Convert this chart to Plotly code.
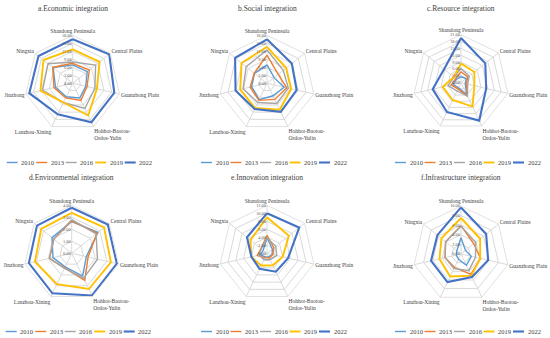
import plotly.graph_objects as go

categories = ["Shandong Peninsula", "Central Plains", "Guanzhong Plain",
              "Hohhot-Baotou-Ordos-Yulin", "Lanzhou-Xining", "Jinzhong", "Ningxia"]
category_labels = ["Shandong Peninsula", "Central Plains", "Guanzhong Plain",
                   "Hohhot-Baotou-<br>Ordos-Yulin", "Lanzhou-Xining", "Jinzhong", "Ningxia"]
years = ["2010", "2013", "2016", "2019", "2022"]
panel_titles = ["a.Economic integration", "b.Social integration", "c.Resource integration",
                "d.Environmental integration", "e.Innovation integration", "f.Infrastructure integration"]

# a. Economic integration
econ_2010 = [6.9, 7.0, 5.0, 6.1, 5.6, 6.6, 9.4]
econ_2013 = [7.5, 8.0, 5.5, 7.1, 6.1, 7.2, 9.6]
econ_2016 = [8.0, 11.0, 8.5, 10.5, 8.0, 11.6, 11.8]
econ_2019 = [12.7, 12.9, 9.3, 13.4, 8.0, 12.4, 14.0]
econ_2022 = [16.5, 17.5, 16.0, 16.2, 12.9, 16.7, 16.4]

# b. Social integration
social_2010 = [6.9, 3.4, 6.6, 5.2, 6.8, 5.9, 6.0]
social_2013 = [10.6, 5.4, 7.6, 6.7, 7.1, 6.5, 6.1]
social_2016 = [12.5, 7.8, 8.2, 8.4, 8.0, 9.2, 10.0]
social_2019 = [13.7, 9.2, 9.3, 11.0, 10.3, 10.3, 12.2]
social_2022 = [16.5, 11.9, 11.4, 11.9, 10.7, 12.1, 15.3]

# c. Resource integration
res_2010 = [2.6, 2.9, 1.9, 5.7, 2.5, 3.5, 2.5]
res_2013 = [4.8, 3.9, 2.3, 6.4, 3.0, 4.4, 3.0]
res_2016 = [6.2, 4.6, 3.0, 6.5, 4.0, 5.8, 4.0]
res_2019 = [8.4, 7.5, 6.0, 11.6, 8.4, 8.2, 4.0]
res_2022 = [19.6, 13.6, 11.3, 18.4, 14.2, 12.7, 9.5]

# d. Environmental integration
env_2010 = [2.65, 2.8, 1.25, 2.1, 1.25, 1.6, 2.1]
env_2013 = [2.7, 2.7, 1.4, 2.5, 1.35, 1.9, 1.9]
env_2016 = [2.8, 2.6, 2.2, 2.3, 1.4, 1.9, 1.9]
env_2019 = [3.37, 3.45, 3.35, 3.3, 2.86, 3.14, 3.25]
env_2022 = [3.8, 3.85, 3.86, 3.9, 3.7, 3.66, 3.7]

# e. Innovation integration
inno_2010 = [3.9, 1.7, 1.3, 1.0, 1.0, 1.7, 1.2]
inno_2013 = [4.5, 2.2, 1.5, 1.3, 1.2, 2.5, 1.9]
inno_2016 = [3.9, 2.8, 2.5, 1.7, 1.7, 2.0, 1.8]
inno_2019 = [9.0, 7.0, 4.0, 3.3, 3.4, 4.0, 5.3]
inno_2022 = [10.0, 10.3, 5.4, 5.1, 4.3, 4.0, 6.4]

# f. Infrastructure integration
infra_2010 = [3.4, 1.2, 2.2, 2.6, 1.2, 1.0, 1.1]
infra_2013 = [5.9, 3.4, 4.2, 4.7, 3.1, 3.4, 4.1]
infra_2016 = [5.8, 3.9, 3.1, 3.8, 3.4, 3.4, 4.1]
infra_2019 = [7.5, 5.1, 4.1, 5.0, 5.2, 4.6, 5.2]
infra_2022 = [9.7, 6.7, 5.8, 5.3, 6.5, 6.4, 6.3]

panel_series = [
    [econ_2010, econ_2013, econ_2016, econ_2019, econ_2022],
    [social_2010, social_2013, social_2016, social_2019, social_2022],
    [res_2010, res_2013, res_2016, res_2019, res_2022],
    [env_2010, env_2013, env_2016, env_2019, env_2022],
    [inno_2010, inno_2013, inno_2016, inno_2019, inno_2022],
    [infra_2010, infra_2013, infra_2016, infra_2019, infra_2022],
]
radial_max = [18, 18, 21, 4, 12, 10]
radial_step = [3, 3, 3, 1, 2, 2]

colors = ["#5B9BD5", "#ED7D31", "#A5A5A5", "#FFC000", "#4472C4"]
widths = [1.4, 1.4, 1.4, 1.9, 2.1]

W, H = 550, 338
FONT = "Liberation Serif"
GRID = "#D9D9D9"
centers = [(72.7, 83.3), (267.0, 83.3), (461.0, 82.7),
           (71.7, 253.3), (267.0, 253.3), (461.0, 254.0)]
R = 48


def px(X):
    return X / W


def py(Y):
    return 1 - Y / H


fig = go.Figure()
layout_polars = {}
annotations = []
shapes = []

for p in range(6):
    name = "polar" if p == 0 else f"polar{p + 1}"
    cx, cy = centers[p]
    for yi, year in enumerate(years):
        vals = panel_series[p][yi]
        fig.add_trace(go.Scatterpolar(
            r=vals + [vals[0]], theta=categories + [categories[0]],
            mode="lines", name=year, subplot=name, showlegend=False,
            line=dict(color=colors[yi], width=widths[yi]),
        ))
    layout_polars[name] = dict(
        domain=dict(x=[px(cx - R), px(cx + R)], y=[py(cy + R), py(cy - R)]),
        gridshape="linear",
        bgcolor="white",
        angularaxis=dict(rotation=90, direction="clockwise", type="category",
                         tickmode="array", tickvals=categories, ticktext=category_labels,
                         tickfont=dict(family=FONT, size=5.5, color="#404040"),
                         showline=True, linecolor=GRID, linewidth=0.8,
                         gridcolor=GRID, gridwidth=0.8, ticks=""),
        radialaxis=dict(range=[0, radial_max[p]], dtick=radial_step[p], tick0=0,
                        tickformat=".2f", angle=90, tickangle=90, side="counterclockwise",
                        tickfont=dict(family=FONT, size=4.3, color="#595959"),
                        showline=False, gridcolor=GRID, gridwidth=0.8, ticks=""),
    )
    top = 0 if p < 3 else 169
    annotations.append(dict(
        text=panel_titles[p], x=px(cx), y=py(top + 8), xref="paper", yref="paper",
        showarrow=False, xanchor="center", yanchor="middle",
        font=dict(family=FONT, size=7.5, color="#404040"),
    ))
    # legend row for this panel
    ly = top + 162.5
    for yi, year in enumerate(years):
        x0 = cx - 66 + 29.5 * yi
        shapes.append(dict(type="line", xref="paper", yref="paper",
                           x0=px(x0), x1=px(x0 + 11), y0=py(ly), y1=py(ly),
                           line=dict(color=colors[yi], width=widths[yi])))
        annotations.append(dict(
            text=year, x=px(x0 + 12.5), y=py(ly), xref="paper", yref="paper",
            showarrow=False, xanchor="left", yanchor="middle",
            font=dict(family=FONT, size=6.5, color="#404040"),
        ))

fig.update_layout(
    width=W, height=H,
    margin=dict(l=0, r=0, t=0, b=0),
    paper_bgcolor="white",
    showlegend=False,
    annotations=annotations,
    shapes=shapes,
    **layout_polars,
)

# remove the default 8px body margin so the 550x338 figure fills the window exactly
fig.write_html("out.html", config={"displayModeBar": False},
               post_script="document.body.style.margin='0px';")
